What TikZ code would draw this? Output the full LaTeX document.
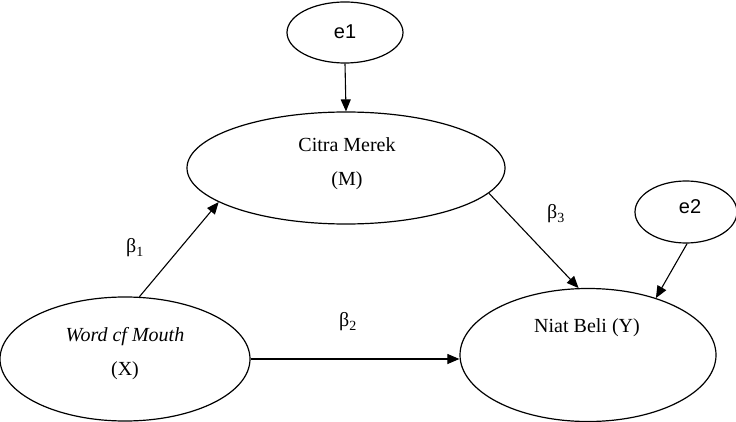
\documentclass[tikz,border=0pt]{standalone}
\usepackage{fontspec}
\setmainfont{Liberation Serif}
\setsansfont{Liberation Sans}
\usetikzlibrary{shapes.geometric,arrows.meta}
\begin{document}
\begin{tikzpicture}[x=1pt,y=-1pt,
  ell/.style={draw,ellipse,line width=1.2pt,inner sep=0pt},
  lbl/.style={font=\fontsize{20}{34}\selectfont,align=center,inner sep=0pt},
  elbl/.style={font=\sffamily\fontsize{20}{22}\selectfont,inner sep=0pt},
  conn/.style={line width=1.1pt,-{Triangle[length=12pt,width=10pt]}}]
\useasboundingbox (0,0) rectangle (736,422);
\node[ell,minimum width=116pt,minimum height=61pt] (e1) at (345,32.5) {};
\node[ell,minimum width=318pt,minimum height=112pt] (cm) at (346,168) {};
\node[ell,minimum width=102pt,minimum height=62pt] (e2) at (686,212) {};
\node[ell,minimum width=256pt,minimum height=133pt] (nb) at (588,355) {};
\node[ell,minimum width=250pt,minimum height=124pt] (wom) at (125,359) {};
\node[elbl] (t1) at (345,32) {e1};
\node[elbl] (t2) at (690,207) {e2};
\node[lbl] (tcm) at (347,163.5) {Citra Merek\\(M)};
\node[lbl] (tnb) at (587,328) {Niat Beli (Y)};
\node[lbl] (twom) at (125,354) {\textit{Word cf Mouth}\\(X)};
\node[lbl] (b1) at (135,248) {β\textsubscript{1}};
\node[lbl] (b2) at (348,322) {β\textsubscript{2}};
\node[lbl] (b3) at (556,214) {β\textsubscript{3}};
\draw[conn] (e1.south) -- (cm.north);
\draw[conn] (cm.-10.8) -- (nb.98);
\draw[conn] (e2.-88) -- (nb.40);
\draw[conn] (wom.77) -- (cm.195);
\draw[conn] (wom.east) -- (wom.east -| nb.west);
\end{tikzpicture}
\end{document}
